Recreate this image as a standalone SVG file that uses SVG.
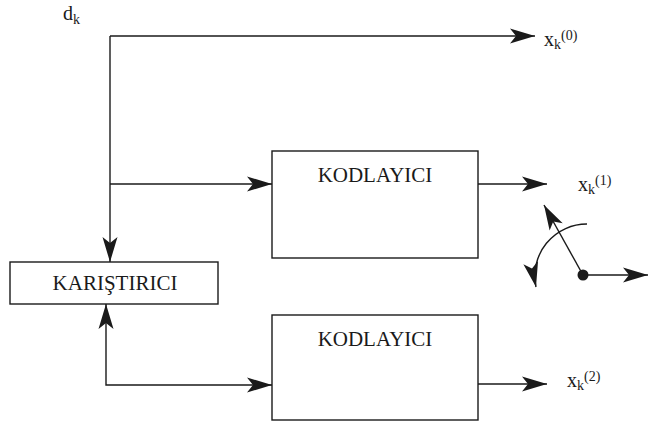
<svg xmlns="http://www.w3.org/2000/svg" width="649" height="423" viewBox="0 0 649 423">
  <style>
    .box { fill: #ffffff; stroke: #1a1a1a; stroke-width: 1.4; }
    .wire { fill: none; stroke: #1a1a1a; stroke-width: 1.4; }
    .lbl { font-size: 21px; }
    .sym { font-size: 20px; }
    .sm { font-size: 14px; }
  </style>
  <defs>
    <marker id="arrow" viewBox="-26 -9 27 18" refX="0" refY="0" markerWidth="27" markerHeight="18" markerUnits="userSpaceOnUse" orient="auto-start-reverse">
      <path d="M0,0 L-25,-7.5 L-19,0 L-25,7.5 Z" fill="#1a1a1a"/>
    </marker>
  </defs>

  <g id="connectors">
    <path class="wire" d="M110,36 L535,36" marker-end="url(#arrow)"/>
    <path class="wire" d="M110,36 L110,262" marker-end="url(#arrow)"/>
    <path class="wire" d="M110,184 L272,184" marker-end="url(#arrow)"/>
    <path class="wire" d="M106,304 L106,385 L272,385" marker-start="url(#arrow)" marker-end="url(#arrow)"/>
    <path class="wire" d="M478,184 L547,184" marker-end="url(#arrow)"/>
    <path class="wire" d="M478,384 L547,384" marker-end="url(#arrow)"/>
  </g>

  <g id="switch">
    <circle cx="583" cy="275" r="5.5" fill="#1a1a1a"/>
    <path class="wire" d="M583,275 L648,275" marker-end="url(#arrow)"/>
    <path class="wire" d="M583,275 L544,205" marker-end="url(#arrow)"/>
    <path class="wire" d="M587,224 A52,52 0 0 0 536,287" marker-end="url(#arrow)"/>
  </g>

  <g font-family="'Liberation Serif', 'DejaVu Serif', serif" fill="#1a1a1a">
    <g id="karistirici">
      <rect class="box" x="10" y="262" width="208" height="42"/>
      <text class="lbl" x="115" y="290" text-anchor="middle">KARIŞTIRICI</text>
    </g>

    <g id="kodlayici1">
      <rect class="box" x="272" y="151" width="206" height="107"/>
      <text class="lbl" x="375" y="182" text-anchor="middle">KODLAYICI</text>
    </g>

    <g id="kodlayici2">
      <rect class="box" x="272" y="315" width="206" height="105"/>
      <text class="lbl" x="375" y="346" text-anchor="middle">KODLAYICI</text>
    </g>

    <g id="labels">
      <text class="sym" x="63" y="20">d<tspan class="sm" dy="4">k</tspan></text>
      <text class="sym" x="544" y="46">x<tspan class="sm" dy="3">k</tspan><tspan class="sm" dy="-9">(0)</tspan></text>
      <text class="sym" x="578" y="191">x<tspan class="sm" dy="3">k</tspan><tspan class="sm" dy="-9">(1)</tspan></text>
      <text class="sym" x="567" y="387">x<tspan class="sm" dy="3">k</tspan><tspan class="sm" dy="-9">(2)</tspan></text>
    </g>
  </g>
</svg>
